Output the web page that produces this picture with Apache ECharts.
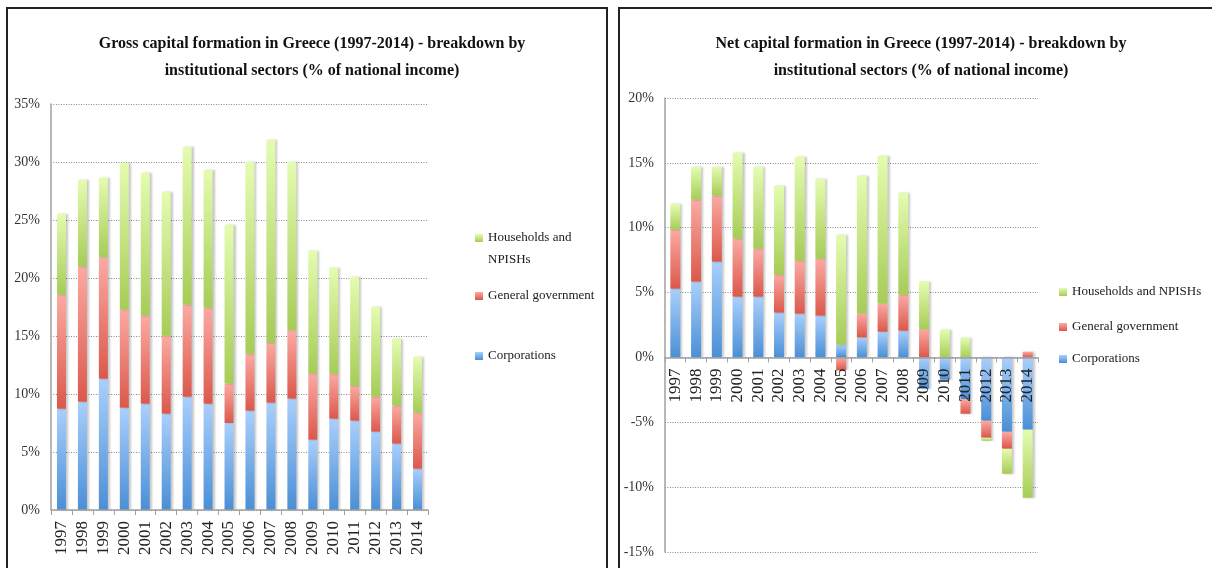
<!DOCTYPE html>
<html><head><meta charset="utf-8">
<script src="https://cdn.jsdelivr.net/npm/echarts@6/dist/echarts.min.js"></script>
<style>html,body{margin:0;padding:0;background:#fff}#c{width:1212px;height:568px}</style>
</head><body><div id="c"></div>
<script>
// ---- data ----
const years = ['1997','1998','1999','2000','2001','2002','2003','2004','2005','2006','2007','2008','2009','2010','2011','2012','2013','2014'];
const seriesNames = ['Corporations', 'General government', 'Households and NPISHs'];

// Gross capital formation (% of national income)
const grossCorporations = [8.73, 9.34, 11.32, 8.82, 9.16, 8.30, 9.77, 9.16, 7.50, 8.56, 9.25, 9.60, 6.06, 7.87, 7.70, 6.75, 5.72, 3.56];
const grossGovernment   = [9.83, 11.63, 10.46, 8.45, 7.59, 6.73, 7.93, 8.28, 3.40, 4.91, 5.15, 5.90, 5.69, 3.88, 3.00, 3.02, 3.28, 4.83];
const grossHouseholds   = [6.98, 7.50, 6.86, 12.67, 12.33, 12.41, 13.60, 11.90, 13.70, 16.53, 17.50, 14.50, 10.61, 9.15, 9.40, 7.73, 5.76, 4.81];

// Net capital formation (% of national income)
const netCorporations = [5.30, 5.84, 7.38, 4.68, 4.68, 3.45, 3.37, 3.22, 0.98, 1.54, 1.98, 2.06, -2.40, -1.72, -3.21, -4.88, -5.73, -5.57];
const netGovernment   = [4.55, 6.32, 5.09, 4.47, 3.70, 2.93, 4.09, 4.39, -1.00, 1.85, 2.18, 2.77, 2.16, 0.00, -1.13, -1.31, -1.31, 0.44];
const netHouseholds   = [1.98, 2.52, 2.21, 6.63, 6.30, 6.86, 8.01, 6.16, 8.48, 10.61, 11.39, 7.87, 3.68, 2.13, 1.52, -0.23, -1.93, -5.25];

const grossTicks = {min: 0, max: 35, interval: 5};
const netTicks = {min: -15, max: 20, interval: 5};

const titles = [
  'Gross capital formation in Greece (1997-2014) - breakdown by\ninstitutional sectors (% of national income)',
  'Net capital formation in Greece (1997-2014) - breakdown by\ninstitutional sectors (% of national income)'
];

// ---- chart ----
const FONT = '"Liberation Serif", "DejaVu Serif", serif';
const chart = echarts.init(document.getElementById('c'));
function grad(c) {
  return new echarts.graphic.LinearGradient(0, 0, 0, 1, [{offset: 0, color: c[0]}, {offset: 1, color: c[1]}]);
}
const COLORS = {
  'Corporations': ['#aacffc', '#4a8fd6'],
  'General government': ['#fbaaa3', '#db584b'],
  'Households and NPISHs': ['#e4fcb0', '#a6cc57']
};
const GRIDS = [
  {left: 51, top: 104, width: 377, height: 406},
  {left: 665, top: 98, width: 373, height: 454}
];
function bar(name, data, idx) {
  return {
    type: 'bar', name: name, data: data,
    xAxisIndex: idx, yAxisIndex: idx, stack: 'st' + idx,
    barWidth: idx ? 10 : 9,
    itemStyle: {color: grad(COLORS[name]), shadowColor: 'rgba(0,0,0,0.22)', shadowBlur: 2, shadowOffsetX: 2},
    emphasis: {disabled: true}
  };
}
function xAx(idx, t) {
  // place the category axis on the zero line of the value axis
  const zeroOffset = -GRIDS[idx].height * (0 - t.min) / (t.max - t.min);
  return {
    type: 'category', data: years, gridIndex: idx, position: 'bottom',
    offset: zeroOffset, z: 5,
    axisLine: {onZero: false, lineStyle: {color: '#a0a0a0', width: 1.5}},
    axisTick: {show: true, length: 5, interval: 0, lineStyle: {color: '#a0a0a0'}},
    axisLabel: {rotate: 90, interval: 0, margin: 11, fontFamily: FONT, fontSize: 17, color: '#222'}
  };
}
function yAx(idx, t) {
  return {
    type: 'value', gridIndex: idx, min: t.min, max: t.max, interval: t.interval,
    axisLine: {show: true, lineStyle: {color: '#a0a0a0', width: 1.5}},
    axisTick: {show: false},
    splitLine: {lineStyle: {color: '#888', type: [1, 1.5], width: 1}},
    axisLabel: {formatter: '{value}%', fontFamily: FONT, fontSize: 14, color: '#333', margin: 11}
  };
}
function leg(name, left, top, fmt, lh) {
  return {
    data: [name], left: left, top: top, orient: 'vertical', padding: 0,
    itemWidth: 8, itemHeight: 8, icon: 'rect', selectedMode: false,
    formatter: fmt || undefined,
    textStyle: {fontFamily: FONT, fontSize: 13, color: '#1a1a1a', lineHeight: lh || 16}
  };
}
const titleStyle = {fontFamily: FONT, fontSize: 16, fontWeight: 'bold', color: '#111', lineHeight: 27};

chart.setOption({
  animation: false,
  title: [
    {text: titles[0], left: 307, top: 25, textAlign: 'center', textStyle: titleStyle},
    {text: titles[1], left: 916, top: 25, textAlign: 'center', textStyle: titleStyle}
  ],
  grid: GRIDS,
  xAxis: [xAx(0, grossTicks), xAx(1, netTicks)],
  yAxis: [yAx(0, grossTicks), yAx(1, netTicks)],
  legend: [
    // empty first line keeps the icon aligned with "Households and" (middle of three lines)
    leg('Households and NPISHs', 475, 205, function () { return ' \nHouseholds and\nNPISHs'; }, 22),
    leg('General government', 475, 288),
    leg('Corporations', 475, 348),
    leg('Households and NPISHs', 1059, 284),
    leg('General government', 1059, 319),
    leg('Corporations', 1059, 351)
  ],
  graphic: [
    {type: 'rect', shape: {x: 7, y: 8, width: 600, height: 580}, style: {fill: 'none', stroke: '#222', lineWidth: 2}, silent: true},
    {type: 'rect', shape: {x: 619, y: 8, width: 620, height: 580}, style: {fill: 'none', stroke: '#222', lineWidth: 2}, silent: true}
  ],
  series: [
    bar('Corporations', grossCorporations, 0),
    bar('General government', grossGovernment, 0),
    bar('Households and NPISHs', grossHouseholds, 0),
    bar('Corporations', netCorporations, 1),
    bar('General government', netGovernment, 1),
    bar('Households and NPISHs', netHouseholds, 1)
  ]
});
</script></body></html>
